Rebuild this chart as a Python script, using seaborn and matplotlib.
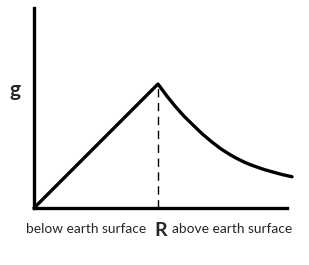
import numpy as np
import pandas as pd
import seaborn as sns
import matplotlib.pyplot as plt

# distance from centre in units of R, g in units of g at the surface
inside_r = [0.0, 1.0]
inside_g = [0.0, 1.0]
outside_r = [1.0, 1.07, 1.137, 1.21, 1.290, 1.36, 1.435, 1.50, 1.565, 1.625, 1.685, 1.74, 1.798, 1.86, 1.927, 2.00, 2.081]
outside_g = [1.0, 0.905, 0.822, 0.74, 0.662, 0.595, 0.532, 0.482, 0.440, 0.405, 0.375, 0.351, 0.330, 0.309, 0.290, 0.270, 0.252]
y_label = "g"
left_label = "below earth surface"
mid_label = "R"
right_label = "above earth surface"

curve = pd.DataFrame({"r": inside_r + outside_r[1:], "g": inside_g + outside_g[1:]})

sns.set_style("white")
plt.rcParams['font.family'] = ['Lato', 'DejaVu Sans']

W, H = 309, 265
fig = plt.figure(figsize=(W / 100, H / 100), dpi=100)
ax = fig.add_axes([34 / W, 57 / H, (287 - 34) / W, 200 / H])

sns.lineplot(data=curve, x="r", y="g", sort=False, color="black", lw=2.4,
             ax=ax, clip_on=False, solid_joinstyle="round")
ax.plot([1.0, 1.0], [0, 1.0], color="black", lw=1, ls=(0, (6, 4)))

ax.set_xlim(0, (287 - 34) / 124)
ax.set_ylim(0, 200 / 124)
ax.set_xticks([])
ax.set_yticks([])
ax.set_xlabel("")
ax.set_ylabel("")
for s in ["top", "right"]:
    ax.spines[s].set_visible(False)
for s in ["left", "bottom"]:
    ax.spines[s].set_linewidth(2.4)
    ax.spines[s].set_color("black")

fig.text(15 / W, 1 - 90 / H, y_label, fontsize=15, fontweight="bold", ha="center", va="center")
fig.text(26 / W, 1 - 229 / H, left_label, fontsize=9.9, ha="left", va="center")
fig.text(161 / W, 1 - 231 / H, mid_label, fontsize=14, fontweight="bold", ha="center", va="center")
fig.text(172 / W, 1 - 229 / H, right_label, fontsize=9.9, ha="left", va="center")

fig.savefig("out.png", dpi=100, facecolor="white")
